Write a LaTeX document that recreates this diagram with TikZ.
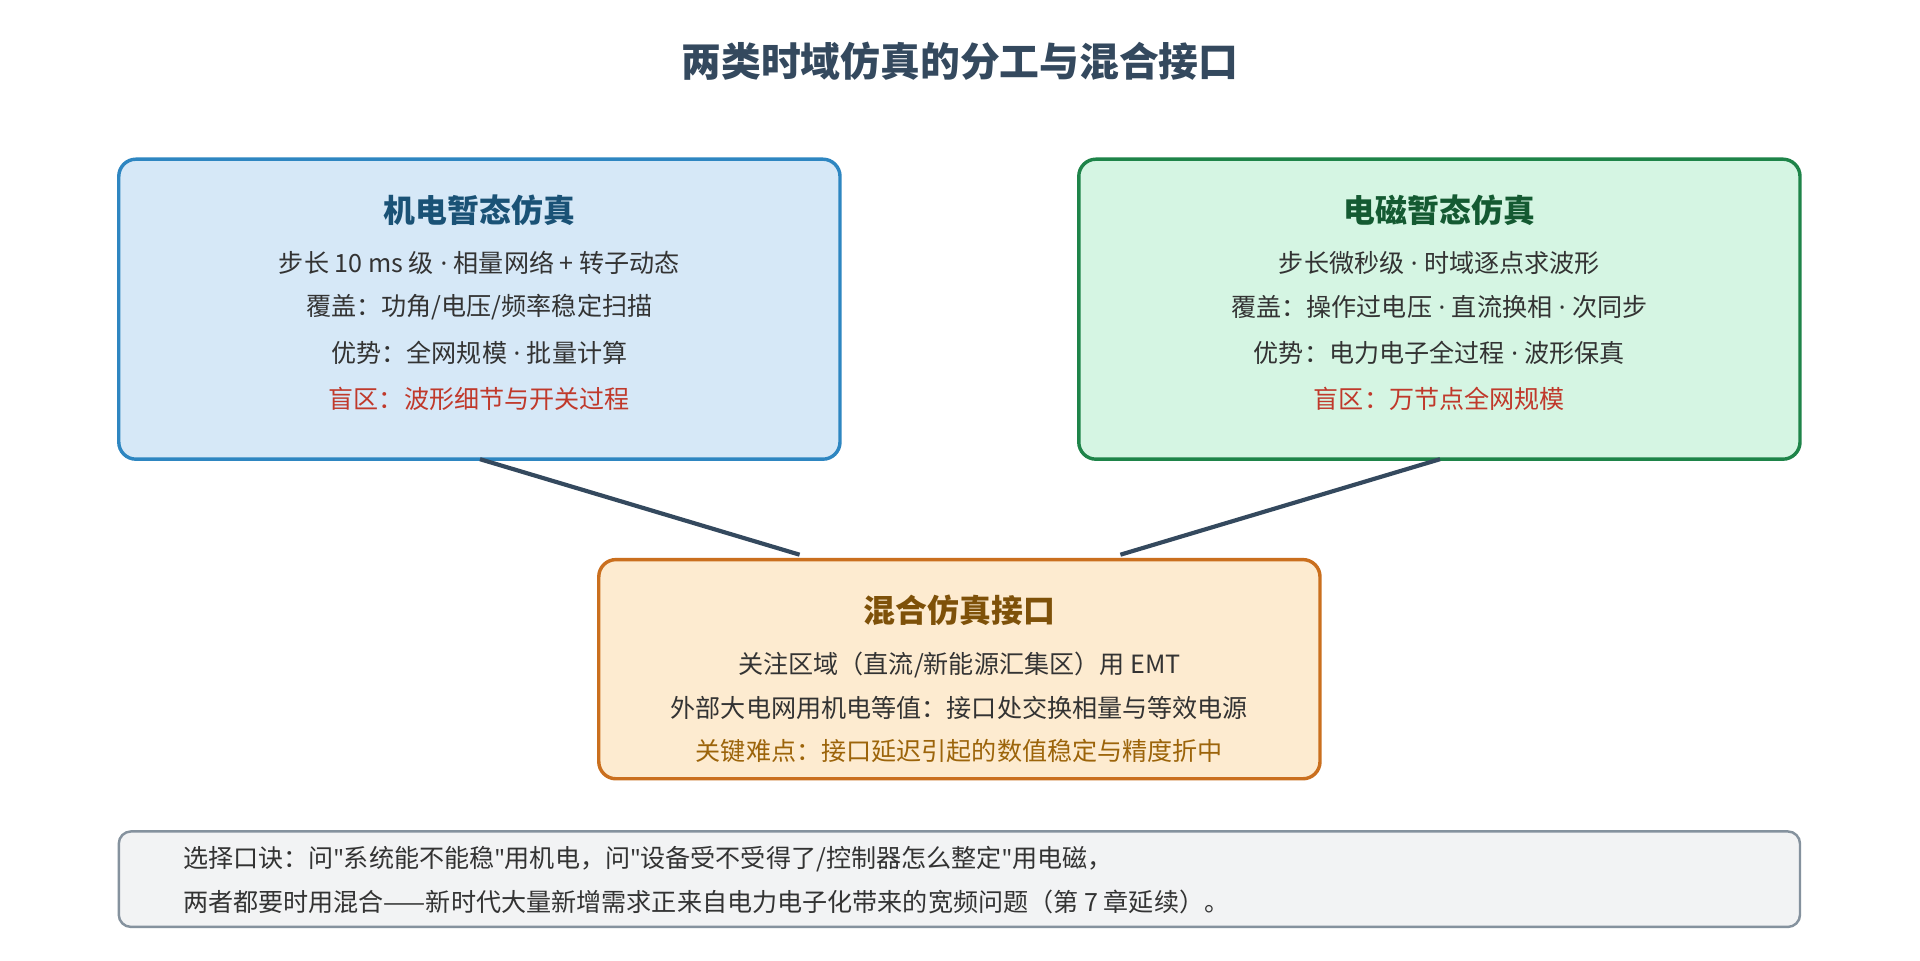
\documentclass[tikz,border=0pt]{standalone}
\usepackage{fontspec}
\setmainfont{Noto Sans CJK SC}
\newfontfamily\latinf{Noto Sans}
\newcommand{\dt}{{\latinf\ ·\ }}
\newcommand{\qq}{{\latinf\char34}}
\definecolor{txt}{HTML}{333333}
\definecolor{lin}{HTML}{34495E}
\definecolor{redt}{HTML}{C0392B}
\definecolor{lbd}{HTML}{2E86C1}\definecolor{lfl}{HTML}{D6E8F7}\definecolor{lhd}{HTML}{1A5276}
\definecolor{rbd}{HTML}{1E8449}\definecolor{rfl}{HTML}{D5F5E3}\definecolor{rhd}{HTML}{145A32}
\definecolor{mbd}{HTML}{CA6F1E}\definecolor{mfl}{HTML}{FDEBD0}\definecolor{mhd}{HTML}{7E5109}\definecolor{mkt}{HTML}{9C640A}
\definecolor{bbd}{HTML}{85929E}\definecolor{bfl}{HTML}{F2F3F4}
\begin{document}
\begin{tikzpicture}[x=1pt,y=-1pt,
 box/.style={rounded corners=14pt,line width=2.8pt},
 t/.style={font=\fontsize{20.5}{24}\selectfont,text=txt},
 h/.style={font=\fontsize{26}{30}\selectfont\bfseries},
 con/.style={line width=3.4pt,draw=lin}]
\useasboundingbox[fill=white] (0,0) rectangle (1568,784);
\node[font=\fontsize{32.5}{38}\selectfont\bfseries,text=lin] (title) at (784,50) {两类时域仿真的分工与混合接口};
% left
\node[box,draw=lbd,fill=lfl,minimum width=589,minimum height=245] (L) at (391.5,252.5) {};
\node[h,text=lhd] (L1) at (391.5,172) {机电暂态仿真};
\node[t] (L2) at (391.5,215) {步长 10 ms 级\dt 相量网络 + 转子动态};
\node[t] (L3) at (391.5,251) {覆盖：功角/电压/频率稳定扫描};
\node[t] (L4) at (391.5,288) {优势：全网规模\dt 批量计算};
\node[t,text=redt] (L5) at (391.5,326) {盲区：波形细节与开关过程};
% right
\node[box,draw=rbd,fill=rfl,minimum width=589,minimum height=245] (R) at (1175.5,252.5) {};
\node[h,text=rhd] (R1) at (1175.5,172) {电磁暂态仿真};
\node[t] (R2) at (1175.5,215) {步长微秒级\dt 时域逐点求波形};
\node[t] (R3) at (1175.5,251) {覆盖：操作过电压\dt 直流换相\dt 次同步};
\node[t] (R4) at (1175.5,288) {优势：电力电子全过程\dt 波形保真};
\node[t,text=redt] (R5) at (1175.5,326) {盲区：万节点全网规模};
% middle
\node[box,draw=mbd,fill=mfl,minimum width=589,minimum height=179] (M) at (783.5,546.5) {};
\node[h,text=mhd] (M1) at (783.5,498) {混合仿真接口};
\node[t] (M2) at (783.5,543) {关注区域（直流/新能源汇集区）用 EMT};
\node[t] (M3) at (783.5,578) {外部大电网用机电等值：接口处交换相量与等效电源};
\node[t,text=mkt] (M4) at (783.5,613) {关键难点：接口延迟引起的数值稳定与精度折中};
\coordinate (a1) at (392,375); \coordinate (a2) at (653,453);
\coordinate (b1) at (1176,375); \coordinate (b2) at (915,453);
\draw[con] (a1) -- (a2);
\draw[con] (b1) -- (b2);
% bottom
\node[rounded corners=10pt,line width=2pt,draw=bbd,fill=bfl,minimum width=1373,minimum height=78] (B) at (783.5,718) {};
\node[t,anchor=west] (B1) at (146,702) {选择口诀：问\qq 系统能不能稳\qq 用机电，问\qq 设备受不受得了/控制器怎么整定\qq 用电磁，};
\node[t,anchor=west] (B2) at (146,737) {两者都要时用混合——新时代大量新增需求正来自电力电子化带来的宽频问题（第 7 章延续）。};
\end{tikzpicture}
\end{document}
